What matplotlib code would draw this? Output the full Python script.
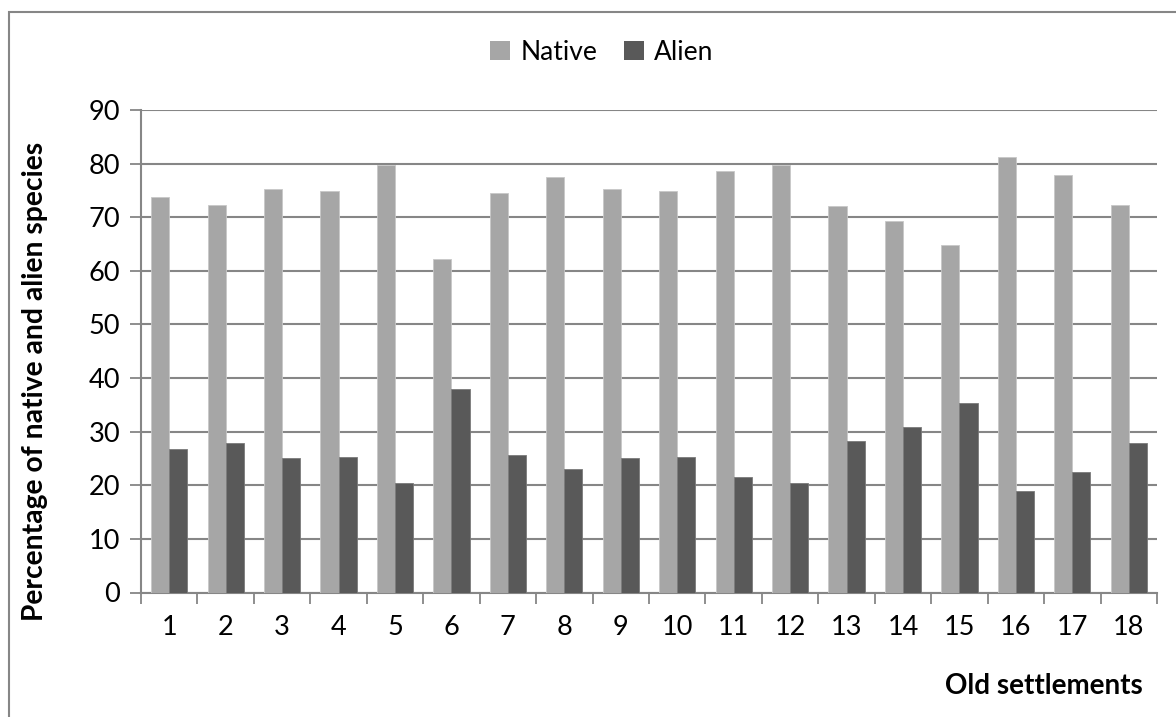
import matplotlib.pyplot as plt
import numpy as np
from matplotlib.patches import Rectangle, Patch

settlements = [str(i) for i in range(1, 19)]
native = [73.8, 72.3, 75.3, 74.9, 79.8, 62.2, 74.5, 77.5, 75.3,
          74.9, 78.6, 79.8, 72.0, 69.3, 64.9, 81.2, 77.9, 72.3]
alien = [26.8, 27.9, 25.0, 25.3, 20.5, 38.0, 25.7, 23.1, 25.0,
         25.3, 21.6, 20.5, 28.3, 30.9, 35.4, 19.0, 22.4, 27.9]

plt.rcParams['font.family'] = ['Lato', 'DejaVu Sans']

W, H = 1176, 717
fig = plt.figure(figsize=(W / 100, H / 100), dpi=100)
ax = fig.add_axes([141 / W, 1 - 592.5 / H, (1157 - 141) / W, (592.5 - 110) / H])

grey = '#868686'
x = np.arange(len(settlements))
bw = 0.32
ax.bar(x - bw / 2, native, bw, color='#a6a6a6', edgecolor='#c8c8c8', linewidth=0.6, zorder=3)
ax.bar(x + bw / 2, alien, bw, color='#595959', edgecolor='#7a7a7a', linewidth=0.6, zorder=3)

ax.set_xlim(-0.5, len(settlements) - 0.5)
ax.set_ylim(0, 90)
ax.set_yticks(range(0, 91, 10))
ax.yaxis.grid(True, color=grey, linewidth=1.5, zorder=0)

ax.set_xticks(x)
ax.set_xticklabels(settlements)
ax.set_xticks(np.arange(-0.5, len(settlements)), minor=True)
ax.tick_params(axis='x', which='major', length=0, pad=16, labelsize=19.5)
ax.tick_params(axis='x', which='minor', length=8, width=1.3, color=grey)
ax.tick_params(axis='y', length=8, width=1.3, color=grey, pad=7, labelsize=19.5)

for side in ['top', 'right']:
    ax.spines[side].set_visible(False)
for side in ['left', 'bottom']:
    ax.spines[side].set_color(grey)
    ax.spines[side].set_linewidth(1.5)

ax.set_ylabel('Percentage of native and alien species', fontsize=20.3,
              fontweight='bold')
ax.yaxis.set_label_coords(-0.0915, 0.438)
fig.text(1143 / W, 1 - 686 / H, 'Old settlements', fontsize=20,
         fontweight='bold', ha='right', va='center')

handles = [Patch(facecolor='#a6a6a6', label='Native'),
           Patch(facecolor='#595959', label='Alien')]
fig.legend(handles=handles, loc='center', bbox_to_anchor=(602 / W, 1 - 52 / H),
           ncol=2, frameon=False, fontsize=19, handlelength=0.75, handleheight=0.75,
           handletextpad=0.4, columnspacing=1.0)

# chart frame
fig.patches.append(Rectangle((9 / W, -0.05), 1.1, 1 - 12 / H + 0.05,
                             transform=fig.transFigure, fill=False,
                             edgecolor=grey, linewidth=1.5))

fig.savefig('out.png', dpi=100)
